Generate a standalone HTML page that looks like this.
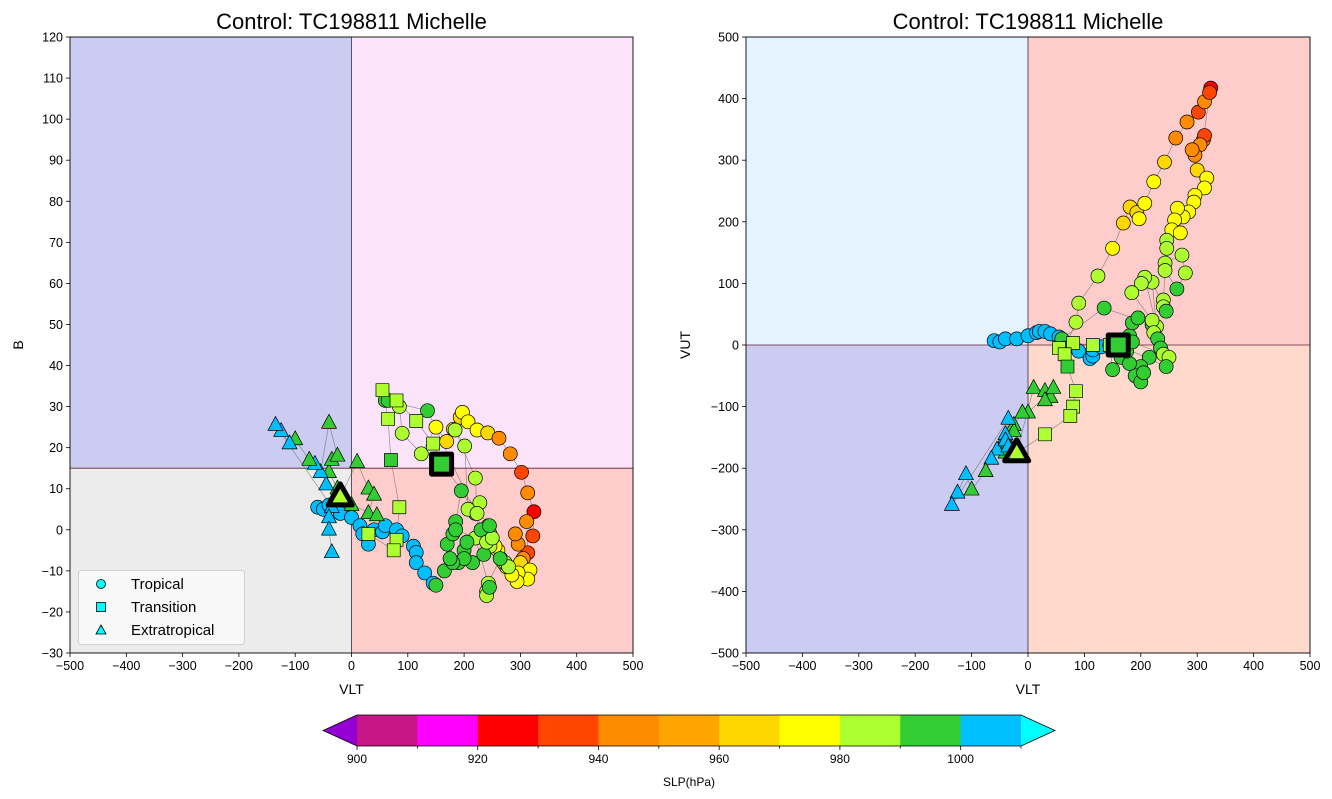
<!DOCTYPE html>
<html><head><meta charset="utf-8">
<style>
html,body{margin:0;padding:0;background:#fff;}
svg{display:block;font-family:"Liberation Sans","DejaVu Sans",sans-serif;}
</style></head>
<body>
<svg id="fig" width="1332" height="799" xmlns="http://www.w3.org/2000/svg"></svg>
<script>
// ---- data (time order) ----
const vlt = [-60,-50,-40,-20,0,15,20,30,40,55,60,80,90,110,115,115,130,145,150,
 165,170,180,185,195,220,135,60,65,85,90,124,150,169,181,193,197,207,223,242,262,282,302,313,324,322,311,313,305,296,291,300,317,313,296,294,285,275,265,260,255,270,246,246,243,273,279,264,243,240,240,245,220,228,207,201,184,220,223,230,235,215,200,190,200,205,180,175,185,240,250,245,
 160,145,115,80,55,65,70,85,80,75,30,
 -20,10,30,40,30,45,0,-10,-25,-40,-45,-35,-25,-40,-55,-65,-75,-100,-110,-125,-135,-35,-40,-40,-35];
const bParam = [5.5,5,6,4,3,1,-1,-3.5,0,-0.5,1,0,-1.5,-4,-5.5,-8,-10.5,-13,-13.5,
 -10,-3.5,-1,2,9.5,4,29,31.5,31.5,30,23.5,18.5,25,21.5,24.5,27.4,28.6,26.3,24.3,23.6,22.3,18.5,14,9,4.4,-1.5,2,-5.6,-7,-3.5,-1,-8,-9.8,-12,-10.5,-12.6,-11,-9,-7,-5,-4,-8,-4,-1,1,-8,-9,-7,-13,-15,-16,-14,-2,6.6,5,20.4,24.3,12.6,4,0,-6,-8,-5,-8,-7,-3,-8,-7,0,-3,-2,1,
 16,21,26.5,31.5,34,27,17,5.5,-2.5,-5,-1,
 8,16.5,10,8.5,4,3.5,6,7,10,14,11,17,18,26,14,16,17,22,21,24,25.5,5.5,3,0,-5.5];
const vut = [7,5,10,10,15,20,22,22,18,13,8,0,-10,-22,-18,-8,-3,0,-40,
 -20,-5,15,36,44,33,60,10,-5,37,68,112,157,198,224,215,205,230,265,297,336,362,378,395,417,410,333,340,325,308,317,284,271,255,243,232,216,208,222,203,187,182,170,157,133,146,117,91,121,73,62,55,102,30,110,100,85,40,20,10,-5,-20,-35,-50,-60,-45,-30,-10,5,-15,-20,-35,
 0,0,0,3,-5,-15,-35,-75,-100,-115,-145,
 -175,-70,-75,-85,-90,-70,-110,-110,-130,-150,-165,-160,-140,-175,-170,-185,-205,-235,-210,-240,-260,-120,-145,-155,-165];
const slp = [1005,1005,1005,1005,1005,1005,1005,1005,1005,1005,1005,1005,1005,1005,1005,1005,1005,1005,995,
 995,995,995,995,995,995,995,995,995,985,985,985,975,965,965,965,975,975,975,965,945,945,935,945,925,935,945,935,945,945,945,965,975,975,975,975,975,975,975,975,975,975,985,985,985,985,985,995,985,985,985,995,985,985,985,985,985,985,985,995,995,995,995,995,995,995,995,995,995,985,985,995,
 995,985,985,985,985,985,995,985,985,985,985,
 985,995,995,995,995,995,995,995,995,995,1005,995,995,995,1005,1005,995,995,1005,1005,1005,1005,1005,1005,1005];
const phaseCounts = [91, 11, 25]; // tropical, transition, extratropical
const cbLevels = [900,910,920,930,940,950,960,970,980,990,1000,1010];
const cbColors = ['#c71585','#ff00ff','#ff0000','#ff4500','#ff8c00','#ffa500','#ffd700','#ffff00','#adff2f','#32cd32','#00bfff'];
const cbTickLabels = [900,920,940,960,980,1000];
const leftYTicks = [-30,-20,-10,0,10,20,30,40,50,60,70,80,90,100,110,120];
const rightYTicks = [-500,-400,-300,-200,-100,0,100,200,300,400,500];
const xTicks = [-500,-400,-300,-200,-100,0,100,200,300,400,500];

const NS='http://www.w3.org/2000/svg';
const svg=document.getElementById('fig');
function mk(tag,attrs,parent){const e=document.createElementNS(NS,tag);for(const k in attrs)e.setAttribute(k,attrs[k]);(parent||svg).appendChild(e);return e;}
function colorOf(p){if(p<900)return '#9400d3';if(p>=1010)return '#00ffff';for(let i=0;i<cbColors.length;i++){if(p<cbLevels[i+1])return cbColors[i];}return '#00ffff';}
function phaseOf(i){if(i<phaseCounts[0])return 'T';if(i<phaseCounts[0]+phaseCounts[1])return 'S';return 'E';}

const L={x0:70,x1:633,y0:37,y1:653,xmin:-500,xmax:500,ymin:-30,ymax:120,split:15};
const R={x0:746,x1:1310,y0:37,y1:653,xmin:-500,xmax:500,ymin:-500,ymax:500,split:0};
function sx(P,v){return P.x0+(v-P.xmin)/(P.xmax-P.xmin)*(P.x1-P.x0);}
function sy(P,v){return P.y1-(v-P.ymin)/(P.ymax-P.ymin)*(P.y1-P.y0);}

function marker(g,ph,x,y,fill,big){
  let e;
  if(ph==='T'){
    e=mk('circle',{cx:x,cy:y,r:big?10:7,fill:fill,stroke:'#000','stroke-width':big?5:0.7},g);
  }else if(ph==='S'){
    const s=big?20:13;
    e=mk('rect',{x:x-s/2,y:y-s/2,width:s,height:s,fill:fill,stroke:'#000','stroke-width':big?5:0.7,'stroke-linejoin':'round'},g);
  }else{
    const h=big?21:14,w=big?24:15;
    e=mk('polygon',{points:`${x},${y-h*0.62} ${x-w/2},${y+h*0.38} ${x+w/2},${y+h*0.38}`,fill:fill,stroke:'#000','stroke-width':big?5:0.7,'stroke-linejoin':'round'},g);
  }
  return e;
}

function panel(P,yArr,quadColors,yTicks,yLabel,name){
  const g=mk('g',{});
  
  
  const xs=sx(P,0), ys=sy(P,P.split);
  const q=[[P.x0,P.y0,xs-P.x0,ys-P.y0],[xs,P.y0,P.x1-xs,ys-P.y0],[P.x0,ys,xs-P.x0,P.y1-ys],[xs,ys,P.x1-xs,P.y1-ys]];
  q.forEach((r,i)=>{const e=mk('rect',{x:r[0],y:r[1],width:r[2],height:r[3],fill:quadColors[i]},g);
    
    });
  mk('line',{x1:xs,y1:P.y0,x2:xs,y2:P.y1,stroke:'#3a2a4a','stroke-width':0.8},g);
  mk('line',{x1:P.x0,y1:ys,x2:P.x1,y2:ys,stroke:'#5a2030','stroke-width':0.8},g);
  let d='';
  for(let i=0;i<vlt.length;i++){d+=(i?'L':'M')+sx(P,vlt[i]).toFixed(1)+','+sy(P,yArr[i]).toFixed(1);}
  const tl=mk('path',{d:d,fill:'none',stroke:'#555','stroke-width':0.7,'stroke-opacity':0.6},g);
  
  
  const bigT=phaseCounts[0], bigE=phaseCounts[0]+phaseCounts[1];
  for(let i=0;i<vlt.length;i++){
    if(i===bigT||i===bigE)continue;
    const m=marker(g,phaseOf(i),sx(P,vlt[i]),sy(P,yArr[i]),colorOf(slp[i]),false);
    
    
  }
  [bigT,bigE].forEach(i=>{
    const m=marker(g,phaseOf(i),sx(P,vlt[i]),sy(P,yArr[i]),i===bigE?'#adff2f':colorOf(slp[i]),true);
    
    
  });
  mk('rect',{x:P.x0,y:P.y0,width:P.x1-P.x0,height:P.y1-P.y0,fill:'none',stroke:'#000','stroke-width':0.9},g);
  xTicks.forEach(t=>{const x=sx(P,t);mk('line',{x1:x,y1:P.y1,x2:x,y2:P.y1+4,stroke:'#000','stroke-width':0.8},g);
    const tx=mk('text',{x:x,y:P.y1+17,'font-size':12.5,'text-anchor':'middle',fill:'#000'},g);tx.textContent=(t<0?'\u2212'+(-t):t);
    
    });
  yTicks.forEach(t=>{const y=sy(P,t);mk('line',{x1:P.x0-4,y1:y,x2:P.x0,y2:y,stroke:'#000','stroke-width':0.8},g);
    const tx=mk('text',{x:P.x0-7,y:y+4.5,'font-size':12.5,'text-anchor':'end',fill:'#000'},g);tx.textContent=(t<0?'\u2212'+(-t):t);
    
    });
  const xl=mk('text',{x:(P.x0+P.x1)/2,y:694,'font-size':14,'text-anchor':'middle'},g);xl.textContent='VLT';
  
  
  const lx=yLabel==='B'?23:690;
  const yl=mk('text',{x:lx,y:(P.y0+P.y1)/2,'font-size':14,'text-anchor':'middle',transform:`rotate(-90 ${lx} ${(P.y0+P.y1)/2})`},g);yl.textContent=yLabel;
  
  
  const ti=mk('text',{x:(P.x0+P.x1)/2,y:29,'font-size':22,'text-anchor':'middle'},g);ti.textContent='Control: TC198811 Michelle';
  
  
  return g;
}
panel(L,bParam,['#ccccf2','#fbe4f9','#ececec','#ffcccc'],leftYTicks,'B','left-panel-b-vs-vlt');
panel(R,vut,['#e4f3fd','#ffcccc','#ccccf2','#ffdacc'],rightYTicks,'VUT','right-panel-vut-vs-vlt');

const lg=mk('g',{});


mk('rect',{x:78.5,y:570.5,width:166,height:74,rx:3,fill:'#fafafa','fill-opacity':0.9,stroke:'#d0d0d0'},lg);
[['T','Tropical',584],['S','Transition',607],['E','Extratropical',630]].forEach(a=>{
  let m;
  if(a[0]==='T')m=mk('circle',{cx:101,cy:a[2],r:4.5,fill:'#00ffff',stroke:'#000','stroke-width':0.8},lg);
  else if(a[0]==='S')m=mk('rect',{x:96.5,y:a[2]-4.5,width:9,height:9,fill:'#00ffff',stroke:'#000','stroke-width':0.8},lg);
  else m=mk('polygon',{points:`101,${a[2]-5} 96,${a[2]+4} 106,${a[2]+4}`,fill:'#00ffff',stroke:'#000','stroke-width':0.8},lg);
  
  
  const t=mk('text',{x:131,y:a[2]+5,'font-size':15},lg);t.textContent=a[1];
  
  
});

const cb=mk('g',{});


const cbx0=357,cbx1=1021,cby0=715,cby1=746;
function cx(v){return cbx0+(v-cbLevels[0])/(cbLevels[cbLevels.length-1]-cbLevels[0])*(cbx1-cbx0);}
for(let i=0;i<cbColors.length;i++){
  const r=mk('rect',{x:cx(cbLevels[i]),y:cby0,width:cx(cbLevels[i+1])-cx(cbLevels[i])+0.5,height:cby1-cby0,fill:cbColors[i]},cb);
  
  
}
mk('polygon',{points:`${cbx0},${cby0} 323,${(cby0+cby1)/2} ${cbx0},${cby1}`,fill:'#9400d3'},cb);
mk('polygon',{points:`${cbx1},${cby0} 1055,${(cby0+cby1)/2} ${cbx1},${cby1}`,fill:'#00ffff'},cb);
mk('polygon',{points:`${cbx0},${cby0} 323,${(cby0+cby1)/2} ${cbx0},${cby1} ${cbx1},${cby1} 1055,${(cby0+cby1)/2} ${cbx1},${cby0}`,fill:'none',stroke:'#000','stroke-width':0.8},cb);
cbLevels.forEach(v=>{mk('line',{x1:cx(v),y1:cby1,x2:cx(v),y2:cby1+(cbTickLabels.includes(v)?4:2.5),stroke:'#000','stroke-width':0.8},cb);});
cbTickLabels.forEach(v=>{const t=mk('text',{x:cx(v),y:763,'font-size':12,'text-anchor':'middle'},cb);t.textContent=v;
  
  });
const cbl=mk('text',{x:689,y:786,'font-size':12,'text-anchor':'middle'},cb);cbl.textContent='SLP(hPa)';


</script>
</body></html>
